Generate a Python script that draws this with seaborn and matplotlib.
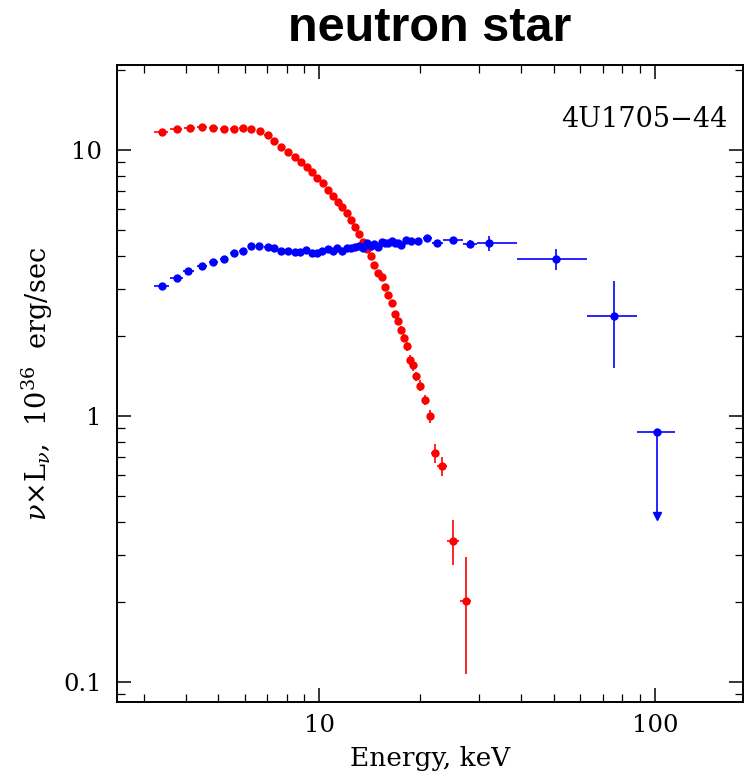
import numpy as np
import pandas as pd
import matplotlib
matplotlib.use("Agg")
import matplotlib.pyplot as plt
import matplotlib.ticker as mticker
import seaborn as sns

# ---------------- data ----------------
red_E = [3.40, 3.76, 4.12, 4.49, 4.84, 5.21, 5.56, 5.93, 6.28, 6.66, 7.02, 7.36,
         7.72, 8.10, 8.47, 8.82, 9.17, 9.53, 9.88, 10.26, 10.61, 11.01, 11.37,
         11.73, 12.09, 12.45, 12.80, 13.18, 13.52, 13.90, 14.28, 14.61, 14.98,
         15.37, 15.69, 16.08, 16.46, 16.84, 17.19, 17.54, 17.91, 18.28, 18.66,
         19.05, 19.41, 19.95, 20.68, 21.40, 22.15, 23.23, 25.10, 27.34]
red_L = [11.66, 11.96, 12.10, 12.17, 12.07, 12.03, 11.99, 12.07, 12.03, 11.76,
         11.36, 10.78, 10.24, 9.80, 9.44, 9.02, 8.63, 8.27, 7.85, 7.50, 7.09,
         6.73, 6.39, 6.09, 5.80, 5.44, 5.12, 4.82, 4.52, 4.24, 4.00, 3.70, 3.44,
         3.32, 3.05, 2.84, 2.65, 2.42, 2.28, 2.11, 1.96, 1.83, 1.63, 1.55, 1.41,
         1.30, 1.148, 1.00, 0.724, 0.649, 0.340, 0.2016]
red_L_lo = [11.55, 11.86, 12.00, 12.07, 11.97, 11.93, 11.89, 11.97, 11.93, 11.66,
            11.26, 10.68, 10.15, 9.71, 9.36, 8.94, 8.55, 8.19, 7.78, 7.43, 7.02,
            6.66, 6.32, 6.02, 5.73, 5.37, 5.05, 4.75, 4.45, 4.17, 3.93, 3.63, 3.37,
            3.25, 2.98, 2.77, 2.58, 2.35, 2.21, 2.04, 1.89, 1.76, 1.56, 1.48, 1.35,
            1.24, 1.10, 0.944, 0.664, 0.595, 0.275, 0.107]
red_L_hi = [11.77, 12.06, 12.20, 12.27, 12.17, 12.13, 12.09, 12.17, 12.13, 11.86,
            11.46, 10.88, 10.33, 9.89, 9.52, 9.10, 8.71, 8.35, 7.92, 7.57, 7.16,
            6.80, 6.46, 6.16, 5.87, 5.51, 5.19, 4.89, 4.59, 4.31, 4.07, 3.77, 3.51,
            3.39, 3.12, 2.91, 2.72, 2.49, 2.35, 2.18, 2.03, 1.90, 1.70, 1.62, 1.47,
            1.36, 1.20, 1.053, 0.785, 0.703, 0.406, 0.296]
red_E_lo = [3.23, 3.60, 3.97, 4.34, 4.69, 5.06, 5.41, 5.78, 6.13, 6.51, 6.87, 7.21,
            7.57, 7.95, 8.32, 8.67, 9.02, 9.38, 9.73, 10.11, 10.46, 10.86, 11.22,
            11.58, 11.94, 12.30, 12.65, 13.03, 13.37, 13.75, 14.13, 14.46, 14.83,
            15.22, 15.54, 15.93, 16.31, 16.69, 17.04, 17.39, 17.76, 18.13, 18.51,
            18.90, 19.26, 19.80, 20.40, 21.00, 21.60, 22.50, 24.10, 26.20]
red_E_hi = [3.55, 3.91, 4.27, 4.64, 4.99, 5.36, 5.71, 6.08, 6.43, 6.81, 7.17, 7.51,
            7.87, 8.25, 8.62, 8.97, 9.32, 9.68, 10.03, 10.41, 10.76, 11.16, 11.52,
            11.88, 12.24, 12.60, 12.95, 13.33, 13.67, 14.05, 14.43, 14.76, 15.13,
            15.52, 15.84, 16.23, 16.61, 16.99, 17.34, 17.69, 18.06, 18.43, 18.81,
            19.20, 19.56, 20.10, 20.95, 21.80, 22.60, 24.10, 26.10, 28.40]

blue_E = [3.40, 3.76, 4.08, 4.49, 4.84, 5.21, 5.56, 5.93, 6.28, 6.64, 7.02, 7.36,
          7.72, 8.08, 8.45, 8.80, 9.15, 9.51, 9.86, 10.23, 10.61, 10.98, 11.33,
          11.73, 12.09, 12.45, 12.80, 13.18, 13.52, 13.90, 14.28, 14.61, 14.98,
          15.37, 15.69, 16.08, 16.46, 16.84, 17.19, 17.54, 18.11, 18.83, 19.71,
          21.01, 22.45, 25.10, 28.15, 32.06, 50.75, 75.5, 101.6]
blue_L = [3.09, 3.30, 3.51, 3.67, 3.79, 3.89, 4.09, 4.17, 4.36, 4.37, 4.33, 4.27,
          4.18, 4.16, 4.15, 4.14, 4.21, 4.11, 4.11, 4.18, 4.23, 4.16, 4.29, 4.18,
          4.27, 4.29, 4.31, 4.37, 4.27, 4.46, 4.37, 4.43, 4.33, 4.51, 4.48, 4.48,
          4.54, 4.48, 4.46, 4.39, 4.60, 4.55, 4.55, 4.67, 4.48, 4.59, 4.43, 4.47,
          3.88, 2.37, 0.868]
blue_L_lo = [3.06, 3.27, 3.48, 3.64, 3.76, 3.86, 4.06, 4.14, 4.33, 4.34, 4.30, 4.24,
             4.15, 4.13, 4.12, 4.11, 4.18, 4.08, 4.08, 4.15, 4.20, 4.13, 4.26, 4.15,
             4.24, 4.26, 4.28, 4.34, 4.24, 4.42, 4.33, 4.39, 4.29, 4.47, 4.44, 4.44,
             4.50, 4.44, 4.42, 4.35, 4.55, 4.50, 4.50, 4.62, 4.43, 4.50, 4.33, 4.18,
             3.54, 1.52, 0.421]
blue_L_hi = [3.12, 3.33, 3.54, 3.70, 3.82, 3.92, 4.12, 4.20, 4.39, 4.40, 4.36, 4.30,
             4.21, 4.19, 4.18, 4.17, 4.24, 4.14, 4.14, 4.21, 4.26, 4.19, 4.32, 4.21,
             4.30, 4.32, 4.34, 4.40, 4.30, 4.50, 4.41, 4.47, 4.37, 4.55, 4.52, 4.52,
             4.58, 4.52, 4.50, 4.43, 4.65, 4.60, 4.60, 4.72, 4.53, 4.68, 4.60, 4.75,
             4.23, 3.22, 0.868]
blue_E_lo = [3.23, 3.60, 3.92, 4.34, 4.69, 5.06, 5.41, 5.78, 6.13, 6.49, 6.87, 7.21,
             7.57, 7.93, 8.30, 8.65, 9.00, 9.36, 9.71, 10.08, 10.46, 10.83, 11.18,
             11.58, 11.94, 12.30, 12.65, 13.03, 13.37, 13.75, 14.13, 14.46, 14.83,
             15.22, 15.54, 15.93, 16.31, 16.69, 17.04, 17.39, 17.80, 18.45, 19.25,
             20.40, 21.70, 23.40, 26.80, 29.50, 38.85, 62.6, 88.2]
blue_E_hi = [3.56, 3.92, 4.24, 4.64, 4.99, 5.36, 5.71, 6.08, 6.43, 6.79, 7.17, 7.51,
             7.87, 8.23, 8.60, 8.95, 9.30, 9.66, 10.01, 10.38, 10.76, 11.13, 11.48,
             11.88, 12.24, 12.60, 12.95, 13.33, 13.67, 14.05, 14.43, 14.76, 15.13,
             15.52, 15.84, 16.23, 16.61, 16.99, 17.34, 17.69, 18.45, 19.25, 20.20,
             21.70, 23.40, 26.80, 29.50, 38.85, 62.6, 88.2, 114.9]
blue_upper_limit = [False] * 50 + [True]

title = "neutron star"
source_name = "4U1705\u221244"
x_label = "Energy, keV"
y_label = r"$\nu$$\times$L$_\nu$,  10$^{36}$  erg/sec"
x_ticks = [10, 100]
x_tick_labels = ["10", "100"]
y_ticks = [0.1, 1, 10]
y_tick_labels = ["0.1", "1", "10"]

# ---------------- plot ----------------
sns.set_style("ticks")
plt.rcParams["font.family"] = ["DejaVu Serif"]
plt.rcParams["mathtext.fontset"] = "dejavuserif"
plt.rcParams["text.color"] = "black"
plt.rcParams["axes.labelcolor"] = "black"
plt.rcParams["xtick.color"] = "black"
plt.rcParams["ytick.color"] = "black"

fig = plt.figure(figsize=(7.45, 7.74), dpi=100)
ax = fig.add_axes([117 / 745, 1 - 702 / 774, (743 - 117) / 745, (702 - 65) / 774])

RED = "#ff0000"
BLUE = "#0000ff"

def draw(E, L, Llo, Lhi, Elo, Ehi, color, uplims=None):
    E = np.asarray(E); L = np.asarray(L)
    yerr = np.vstack([L - np.asarray(Llo), np.asarray(Lhi) - L])
    xerr = np.vstack([E - np.asarray(Elo), np.asarray(Ehi) - E])
    m = np.zeros(len(E), bool) if uplims is None else np.asarray(uplims)
    ax.errorbar(E[~m], L[~m], yerr=yerr[:, ~m], xerr=xerr[:, ~m], fmt="none",
                ecolor=color, elinewidth=1.4, capsize=0, alpha=0.85, zorder=2)
    if m.any():
        ax.errorbar(E[m], L[m], yerr=yerr[:, m], xerr=xerr[:, m], fmt="none",
                    ecolor=color, elinewidth=1.4, capsize=0, alpha=0.85, zorder=2)
        ax.plot(E[m], np.asarray(Llo)[m], linestyle="none", marker="v",
                color=color, markersize=6, zorder=3)
    df = pd.DataFrame({"E": E, "L": L})
    sns.scatterplot(data=df, x="E", y="L", color=color, s=36, edgecolor=color,
                    linewidth=0, ax=ax, zorder=3, legend=False)

draw(red_E, red_L, red_L_lo, red_L_hi, red_E_lo, red_E_hi, RED)
draw(blue_E, blue_L, blue_L_lo, blue_L_hi, blue_E_lo, blue_E_hi, BLUE, blue_upper_limit)

ax.set_xscale("log")
ax.set_yscale("log")
ax.set_xlim(2.5, 183)
ax.set_ylim(0.084, 20.9)

ax.xaxis.set_major_locator(mticker.FixedLocator(x_ticks))
ax.xaxis.set_major_formatter(mticker.FixedFormatter(x_tick_labels))
ax.yaxis.set_major_locator(mticker.FixedLocator(y_ticks))
ax.yaxis.set_major_formatter(mticker.FixedFormatter(y_tick_labels))
ax.xaxis.set_minor_locator(mticker.LogLocator(base=10, subs=np.arange(2, 10)))
ax.yaxis.set_minor_locator(mticker.LogLocator(base=10, subs=np.arange(2, 10)))
ax.xaxis.set_minor_formatter(mticker.NullFormatter())
ax.yaxis.set_minor_formatter(mticker.NullFormatter())

ax.tick_params(which="both", direction="in", top=True, right=True, color="black")
ax.tick_params(which="major", length=10, width=1.1, labelsize=17.5)
ax.tick_params(which="minor", length=5.5, width=0.9)
ax.tick_params(axis="y", which="major", pad=11)
ax.tick_params(axis="x", which="major", pad=9)
for sp in ax.spines.values():
    sp.set_linewidth(1.4)
    sp.set_color("black")

ax.set_xlabel(x_label, fontsize=19, labelpad=6)
ax.set_ylabel(y_label, fontsize=19.5, labelpad=6)
ax.text(0.976, 0.915, source_name, transform=ax.transAxes, ha="right", va="center",
        fontsize=19.5)
fig.text((117 + 743) / 2 / 745, 1 - 28.5 / 774, title, ha="center", va="center",
         fontsize=35, fontweight="bold", color="black",
         family=["Liberation Sans", "DejaVu Sans"])

fig.savefig("out.png", dpi=100)
